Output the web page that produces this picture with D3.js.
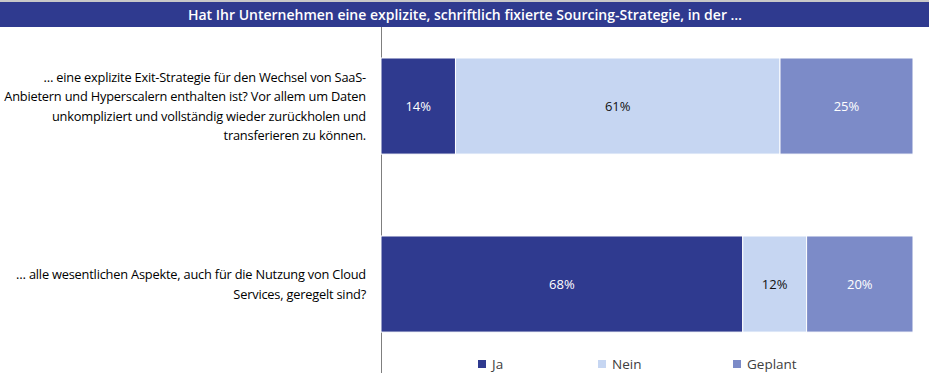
<!DOCTYPE html>
<html>
<head>
<meta charset="utf-8">
<script src="https://cdn.jsdelivr.net/npm/d3@7"></script>
<style>
  body { margin: 0; background: #fff; }
  svg { display: block; font-family: "Open Sans", "Noto Sans", sans-serif; }
</style>
</head>
<body>
<svg id="chart" width="929" height="373"></svg>
<script>
// question and answers
var title = "Hat Ihr Unternehmen eine explizite, schriftlich fixierte Sourcing-Strategie, in der \u2026";
var questions = [
  ["\u2026 eine explizite Exit-Strategie f\u00fcr den Wechsel von SaaS-",
   "Anbietern und Hyperscalern enthalten ist? Vor allem um Daten",
   "unkompliziert und vollst\u00e4ndig wieder zur\u00fcckholen und",
   "transferieren zu k\u00f6nnen."],
  ["\u2026 alle wesentlichen Aspekte, auch f\u00fcr die Nutzung von Cloud",
   "Services, geregelt sind?"]
];
var answers = ["Ja", "Nein", "Geplant"];
var ja = [14, 68];
var nein = [61, 12];
var geplant = [25, 20];

var colors = ["#2f3a8f", "#c6d6f2", "#7c8bc8"];
var textCols = ["#fff", "#111", "#fff"];

var svg = d3.select("#chart");
var W = 929, H = 373;

// title banner
svg.append("rect").attr("x", 0).attr("y", 0).attr("width", W).attr("height", 2).attr("fill", "#c8c8c8");
svg.append("rect").attr("x", 0).attr("y", 2).attr("width", W).attr("height", 25).attr("fill", "#2f3a8f");
svg.append("text")
  .attr("x", 465).attr("y", 19.5)
  .attr("text-anchor", "middle")
  .attr("fill", "#fff")
  .attr("font-size", 14)
  .attr("font-weight", 600)
  .text(title);

var rows = questions.map(function(q, i) {
  return { k: i, Ja: ja[i], Nein: nein[i], Geplant: geplant[i] };
});

var x = d3.scaleLinear().domain([0, 100]).range([381, 913]);
var y = d3.scaleBand().domain(d3.range(questions.length)).range([13.5, 376.6]).paddingInner(0.46).paddingOuter(0.25);

var stack = d3.stack().keys(answers)(rows);

// axis line
svg.append("line")
  .attr("x1", 381.5).attr("x2", 381.5).attr("y1", 27).attr("y2", H)
  .attr("stroke", "#7f7f7f").attr("stroke-width", 1);

var layer = svg.selectAll("g.layer").data(stack).enter()
  .append("g").attr("class", "layer");

layer.selectAll("rect").data(function(d) { return d; }).enter()
  .append("rect")
  .attr("x", function(d) { return x(d[0]); })
  .attr("y", function(d, i) { return y(i); })
  .attr("width", function(d) { return x(d[1]) - x(d[0]); })
  .attr("height", y.bandwidth())
  .attr("fill", function() { return colors[answers.indexOf(d3.select(this.parentNode).datum().key)]; })
  .attr("stroke", "#fff").attr("stroke-width", 1);

layer.each(function(s, si) {
  d3.select(this).selectAll("text").data(s).enter()
    .append("text")
    .attr("x", function(d) { return (x(d[0]) + x(d[1])) / 2; })
    .attr("y", function(d, i) { return y(i) + y.bandwidth() / 2 + 5; })
    .attr("text-anchor", "middle")
    .attr("font-size", 13)
    .attr("font-weight", 500)
    .attr("fill", textCols[si])
    .text(function(d) { return (d[1] - d[0]) + "%"; });
});

// category labels, right aligned
questions.forEach(function(lines, i) {
  var lh = 19.5;
  var cy = y(i) + y.bandwidth() / 2;
  var t = svg.append("text")
    .attr("text-anchor", "end")
    .attr("font-size", 12.8)
    .attr("font-weight", 500)
    .attr("letter-spacing", -0.2)
    .attr("fill", "#000");
  lines.forEach(function(l, j) {
    t.append("tspan")
      .attr("x", 366)
      .attr("y", cy - (lines.length - 1) * lh / 2 + j * lh + 5)
      .text(l);
  });
});

// legend
var legX = [478, 598, 733];
var leg = svg.selectAll("g.leg").data(answers).enter()
  .append("g").attr("class", "leg")
  .attr("transform", function(d, i) { return "translate(" + legX[i] + ",364)"; });
leg.append("rect").attr("x", 0).attr("y", -4).attr("width", 8).attr("height", 8)
  .attr("fill", function(d, i) { return colors[i]; });
leg.append("text").attr("x", 14).attr("y", 5).attr("font-size", 13.5).attr("fill", "#404040")
  .text(function(d) { return d; });
</script>
</body>
</html>
